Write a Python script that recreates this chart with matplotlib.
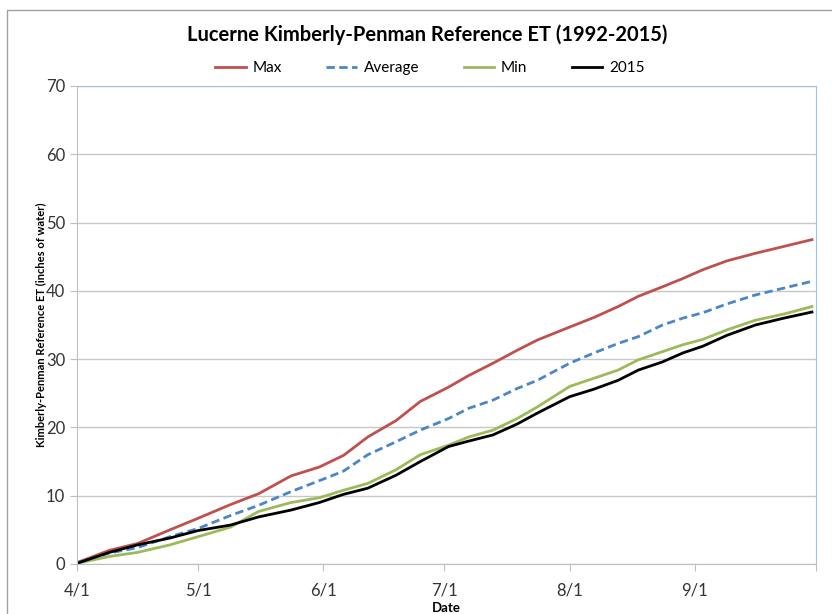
import numpy as np
import pandas as pd
import matplotlib
matplotlib.use("Agg")
import matplotlib.pyplot as plt
from matplotlib.patches import Rectangle

# days after April 1, 2015
days = [0, 8, 15, 23, 30, 38, 45, 53, 60, 66, 72, 79, 85, 92, 97, 103, 109,
        114, 122, 128, 134, 139, 145, 150, 155, 161, 168, 175, 182]
et_max = [0.2, 2.0, 3.0, 5.0, 6.7, 8.7, 10.3, 12.9, 14.2, 15.9, 18.6, 21.0,
          23.8, 25.9, 27.6, 29.4, 31.3, 32.8, 34.7, 36.1, 37.7, 39.2, 40.6,
          41.8, 43.1, 44.4, 45.5, 46.5, 47.5]
et_avg = [0.2, 1.6, 2.4, 4.0, 5.2, 7.1, 8.6, 10.6, 12.2, 13.6, 16.0, 17.9,
          19.6, 21.3, 22.8, 24.0, 25.7, 26.9, 29.4, 30.9, 32.3, 33.3, 35.0,
          36.0, 36.8, 38.1, 39.4, 40.4, 41.4]
et_min = [0.1, 1.1, 1.7, 2.8, 4.0, 5.4, 7.7, 9.0, 9.7, 10.8, 11.8, 13.8,
          16.0, 17.4, 18.6, 19.6, 21.3, 23.0, 26.0, 27.2, 28.4, 29.9, 31.1,
          32.1, 32.9, 34.3, 35.7, 36.6, 37.7]
et_2015 = [0.1, 1.7, 2.8, 3.8, 4.9, 5.7, 6.9, 7.9, 9.0, 10.2, 11.1, 13.0,
           15.0, 17.2, 18.0, 18.9, 20.5, 22.1, 24.5, 25.6, 26.9, 28.4, 29.6,
           30.9, 31.9, 33.5, 35.0, 36.0, 36.9]
tick_dates = ["2015-04-01", "2015-05-01", "2015-06-01", "2015-07-01",
              "2015-08-01", "2015-09-01", "2015-10-01"]
tick_labels = ["4/1", "5/1", "6/1", "7/1", "8/1", "9/1", ""]

dates = pd.Timestamp("2015-04-01") + pd.to_timedelta(days, unit="D")
ticks = pd.to_datetime(tick_dates)

plt.rcParams['font.family'] = ['Lato', 'DejaVu Sans']

fig = plt.figure(figsize=(8.32, 6.14), dpi=100)
ax = fig.add_axes([77/832, 50/614, (816-77)/832, (564-86)/614])

ax.plot(dates, et_max, color='#C0504D', lw=2, label='Max')
ax.plot(dates, et_avg, color='#4A86C8', lw=2, ls=(0, (3, 1.6)), label='Average')
ax.plot(dates, et_min, color='#9BBB59', lw=2, label='Min')
ax.plot(dates, et_2015, color='black', lw=2, label='2015')

ax.set_xlim(ticks[0], ticks[-1])
ax.set_ylim(0, 70)
ax.set_yticks(np.arange(0, 71, 10))
ax.set_xticks(ticks)
ax.set_xticklabels(tick_labels)
ax.grid(axis='y', color='#C8C8C8', lw=1)
ax.set_axisbelow(True)

ax.spines['top'].set_color('#9DC3E6')
ax.spines['right'].set_color('#9DC3E6')
ax.spines['left'].set_color('#BFBFBF')
ax.spines['bottom'].set_color('#BFBFBF')
ax.tick_params(axis='both', colors='#BFBFBF', labelcolor='#333333',
               labelsize=12, length=5, direction='out')
ax.tick_params(axis='x', pad=8)

ax.set_ylabel('Kimberly-Penman Reference ET (inches of water)',
              fontsize=8, fontweight='bold', labelpad=-1)
ax.set_xlabel('Date', fontsize=9.5, fontweight='bold', labelpad=3)

fig.text(427/832, 1 - 35/614, 'Lucerne Kimberly-Penman Reference ET (1992-2015)',
         ha='center', va='center', fontsize=14.5, fontweight='bold')
fig.legend(loc='center', bbox_to_anchor=(430/832, 1 - 68/614), ncol=4,
           frameon=False, fontsize=11, handlelength=2.0, columnspacing=2.9,
           handletextpad=0.45)

fig.patches.append(Rectangle((7/832, -0.1), 1.2, 1 - 10/614 + 0.1,
                             transform=fig.transFigure, fill=False,
                             edgecolor='#A0A0A0', lw=1))

fig.savefig('out.png', dpi=100)
